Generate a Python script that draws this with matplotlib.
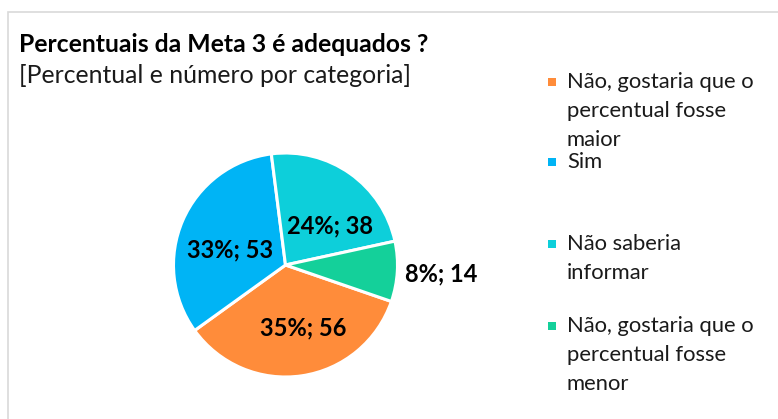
import matplotlib.pyplot as plt
from matplotlib.patches import Rectangle
import numpy as np

# data
categories = [
    "Não, gostaria que o\npercentual fosse\nmaior",
    "Sim",
    "Não saberia\ninformar",
    "Não, gostaria que o\npercentual fosse\nmenor",
]
counts = [56, 53, 38, 14]
pct_shown = [35, 33, 24, 8]
colors = ["#FF8C3A", "#00B4F5", "#0DCFDA", "#14D09A"]

FONT = "Lato"
W, H = 778, 419
fig = plt.figure(figsize=(W / 100, H / 100), dpi=100)
fig.patch.set_facecolor("white")

# chart border (only top and left edges fall inside the image)
fig.add_artist(Rectangle((8 / W, -0.1), 1.2, 1 - 12 / H + 0.1, transform=fig.transFigure,
                         fill=False, edgecolor="#D9D9D9", linewidth=1.2))

fig.text(19 / W, 1 - 44 / H, "Percentuais da Meta 3 é adequados ?", fontsize=17.8,
         fontweight="bold", family=FONT, va="center", ha="left", color="#000000")
fig.text(19 / W, 1 - 75 / H, "[Percentual e número por categoria]", fontsize=17.8,
         family=FONT, va="center", ha="left", color="#1a1a1a")

# pie
cx, cy, r = 285.5, 265, 112
ax = fig.add_axes([(cx - r) / W, 1 - (cy + r) / H, 2 * r / W, 2 * r / H])
wedges, _ = ax.pie(counts, colors=colors, startangle=-19, counterclock=False,
                   wedgeprops=dict(edgecolor="white", linewidth=2.2))
ax.set_xlim(-1, 1)
ax.set_ylim(-1, 1)
ax.set_aspect("equal")
ax.axis("off")

# label placement: radial distance and angular nudge (deg) per slice
label_dist = [0.58, 0.51, 0.53, 1.39]
label_nudge = [7, 8, -13, 0]
for w, p, c, d, n in zip(wedges, pct_shown, counts, label_dist, label_nudge):
    ang = np.deg2rad((w.theta1 + w.theta2) / 2 + n)
    ax.text(d * np.cos(ang), d * np.sin(ang), f"{p}%; {c}", ha="center", va="center",
            fontsize=17, fontweight="bold", family=FONT, color="#000000", clip_on=False)

# legend
leg_y = [82, 162, 244, 326]
for lab, col, y in zip(categories, colors, leg_y):
    fig.add_artist(Rectangle((548 / W, 1 - (y + 4) / H), 8 / W, 8 / H, transform=fig.transFigure,
                             facecolor=col, edgecolor="none"))
    fig.text(567 / W, 1 - (y - 10) / H, lab, fontsize=15.8, family=FONT, va="top", ha="left",
             color="#1a1a1a", linespacing=1.56)

fig.savefig("out.png", dpi=100, facecolor="white")
